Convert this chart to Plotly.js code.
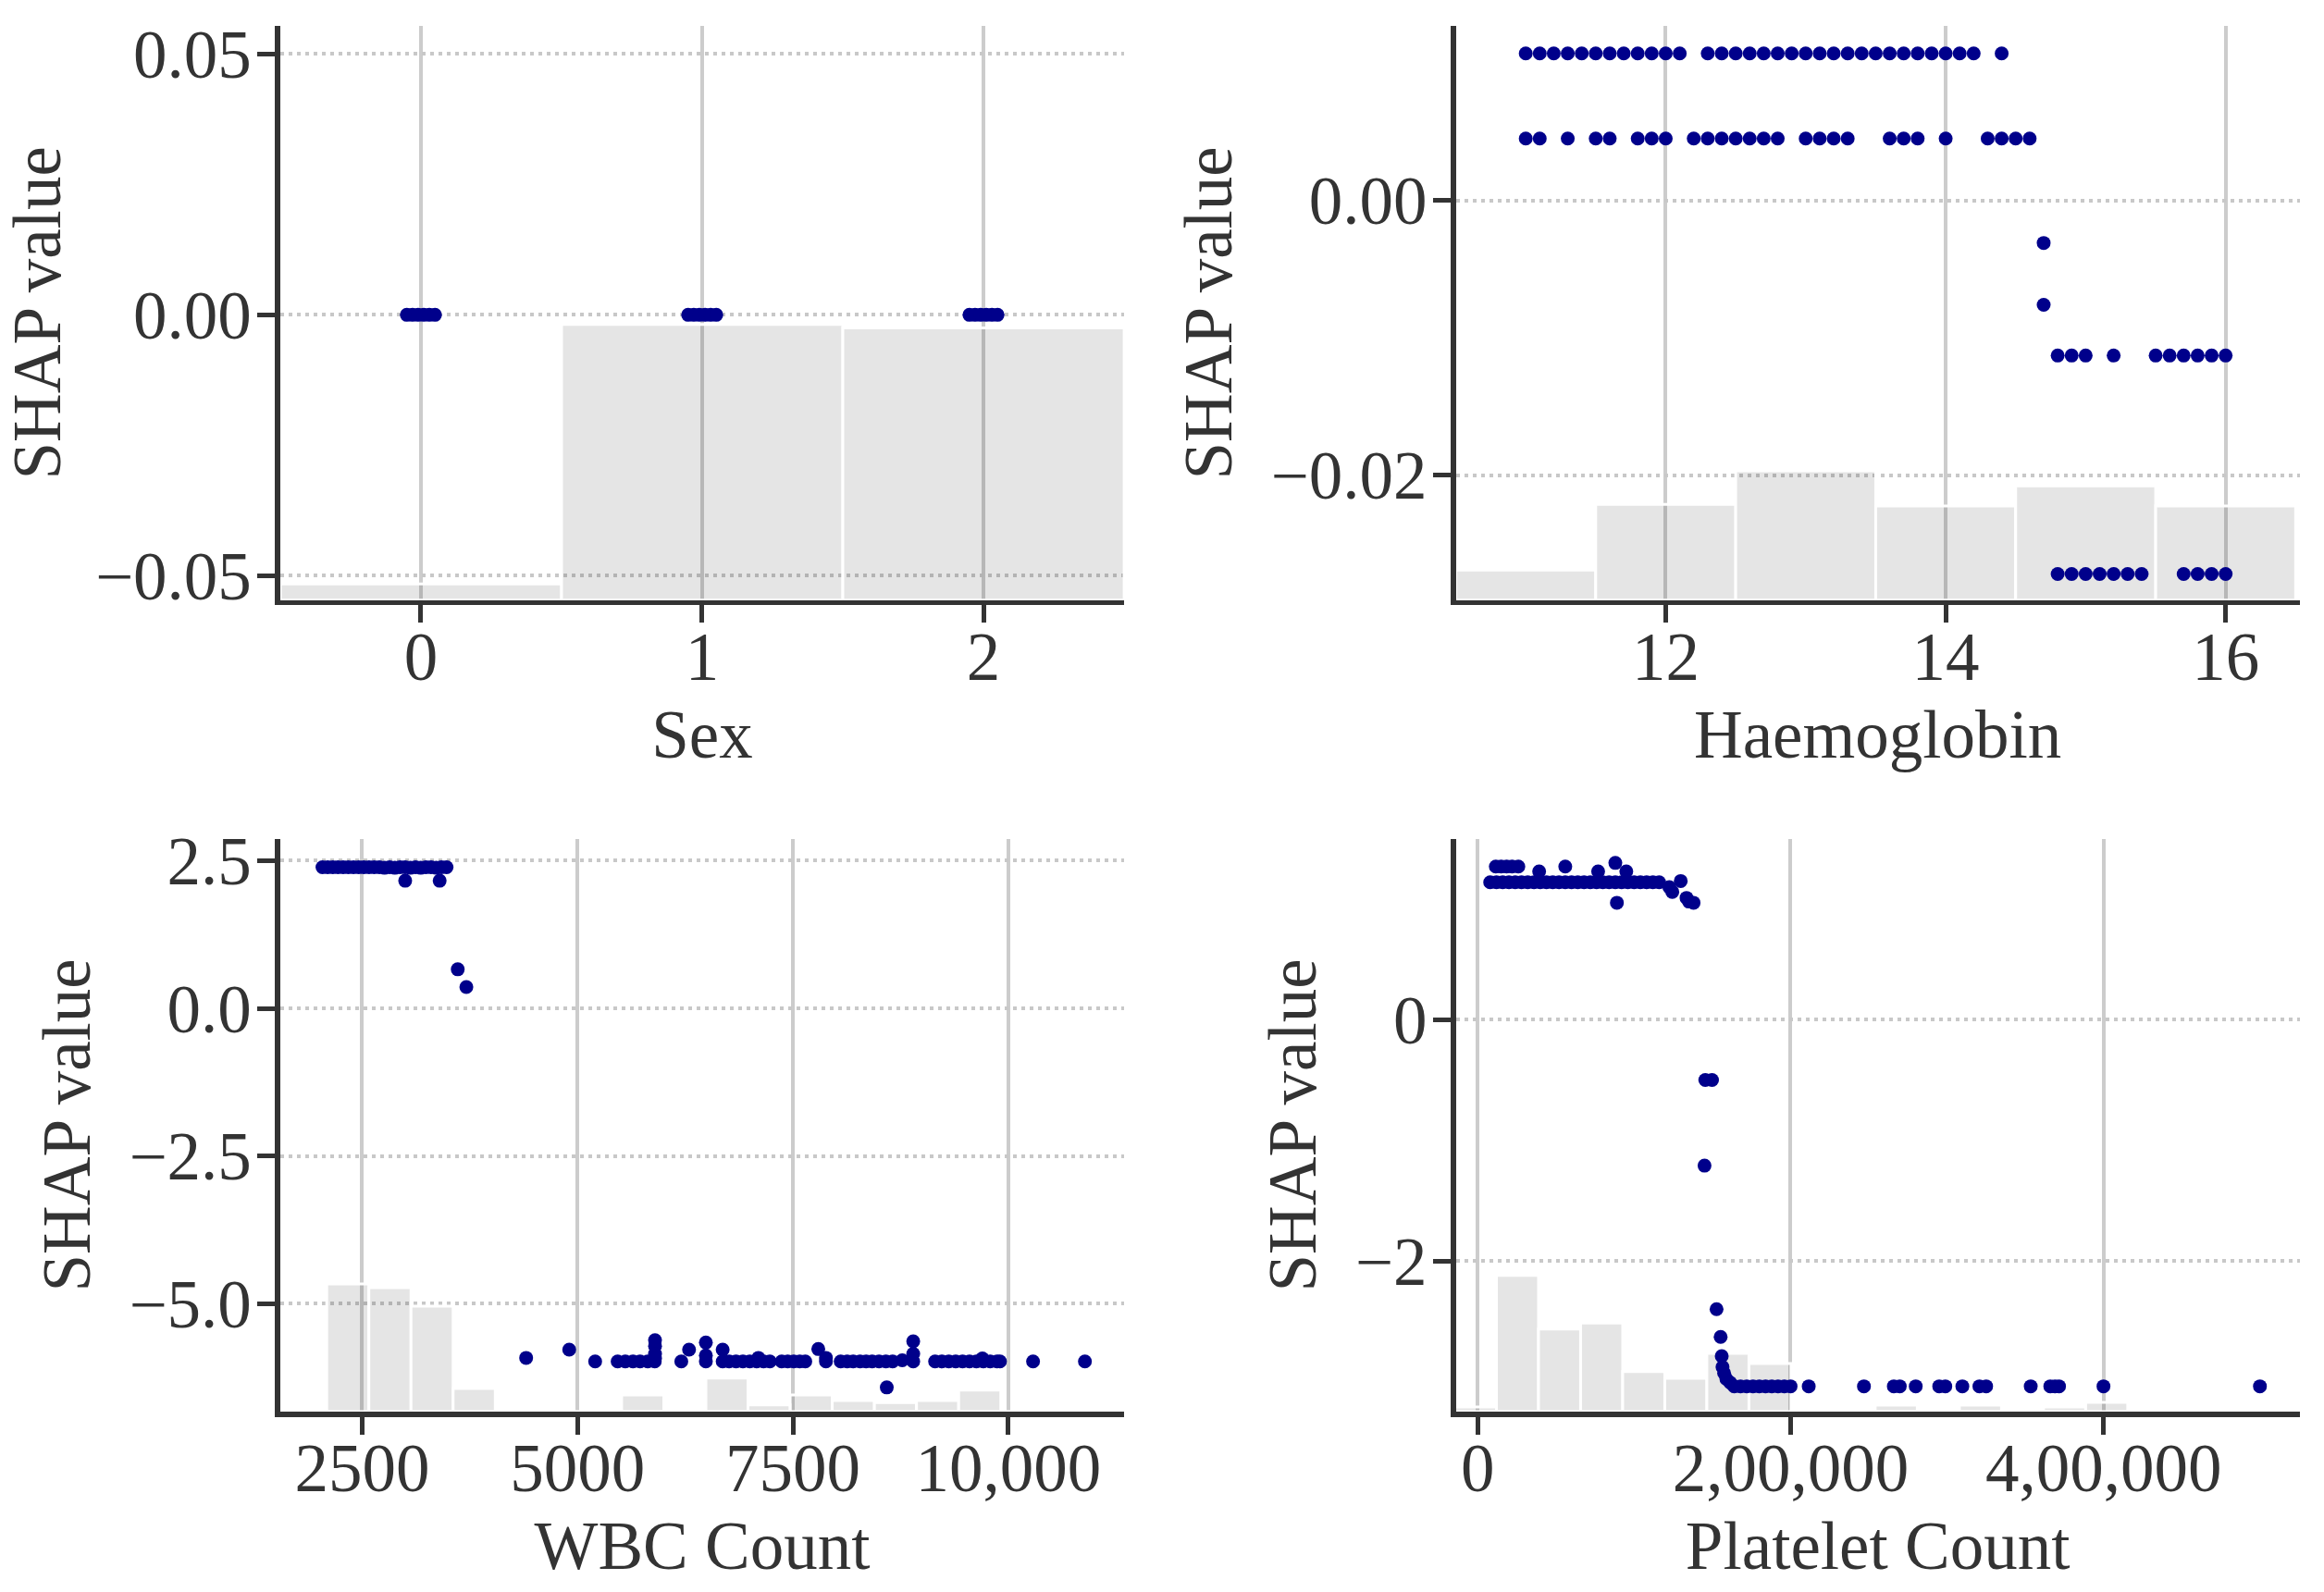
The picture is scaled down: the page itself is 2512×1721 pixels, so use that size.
<!DOCTYPE html>
<html><head><meta charset="utf-8">
<script src="https://cdn.plot.ly/plotly-3.0.1.min.js"></script>
<style>html,body{margin:0;padding:0;background:#fff}#chart{width:2512px;height:1721px}</style>
</head><body><div id="chart"></div>
<script>
// ---------- Sex ----------
const sexX = [-0.05,-0.03,-0.01,0.01,0.03,0.05, 0.95,0.97,0.99,1.01,1.03,1.05, 1.95,1.97,1.99,2.01,2.03,2.05];
const sexY = [0,0,0,0,0,0, 0,0,0,0,0,0, 0,0,0,0,0,0];
const sexBins = [0, 1, 2];
const sexHistShare = [0.028, 0.480, 0.474];

// ---------- Haemoglobin ----------
const hbX = [
  11.0,11.1,11.2,11.3,11.4,11.5,11.6,11.7,11.8,11.9,12.0,12.1,
  12.3,12.4,12.5,12.6,12.7,12.8,12.9,13.0,13.1,13.2,13.3,13.4,13.5,13.6,13.7,13.8,13.9,14.0,14.1,14.2,
  14.4,
  11.0,11.1,11.3,11.5,11.6,11.8,11.9,12.0,12.2,12.3,12.4,12.5,12.6,12.7,12.8,13.0,13.1,13.2,13.3,13.6,13.7,13.8,14.0,14.3,14.4,14.5,14.6,
  14.7,14.7,
  14.8,14.9,15.0,15.2,15.5,15.6,15.7,15.8,15.9,16.0,
  14.8,14.9,15.0,15.1,15.2,15.3,15.4,15.7,15.8,15.9,16.0
];
const hbY = [
  0.0107,0.0107,0.0107,0.0107,0.0107,0.0107,0.0107,0.0107,0.0107,0.0107,0.0107,0.0107,
  0.0107,0.0107,0.0107,0.0107,0.0107,0.0107,0.0107,0.0107,0.0107,0.0107,0.0107,0.0107,0.0107,0.0107,0.0107,0.0107,0.0107,0.0107,0.0107,0.0107,
  0.0107,
  0.0045,0.0045,0.0045,0.0045,0.0045,0.0045,0.0045,0.0045,0.0045,0.0045,0.0045,0.0045,0.0045,0.0045,0.0045,0.0045,0.0045,0.0045,0.0045,0.0045,0.0045,0.0045,0.0045,0.0045,0.0045,0.0045,0.0045,
  -0.0031,-0.0076,
  -0.0113,-0.0113,-0.0113,-0.0113,-0.0113,-0.0113,-0.0113,-0.0113,-0.0113,-0.0113,
  -0.0272,-0.0272,-0.0272,-0.0272,-0.0272,-0.0272,-0.0272,-0.0272,-0.0272,-0.0272,-0.0272
];
const hbBins = [11, 12, 13, 14, 15, 16];
const hbHistShare = [0.052, 0.1665, 0.225, 0.1637, 0.199, 0.1637];

// ---------- WBC Count ----------
const wbcX = [
  2040,2100,2160,2220,2280,2340,2400,2460,2520,2580,2640,2700,2760,2820,2880,2940,3000,3060,3120,3180,3240,3300,3360,3420,3480,
  3000,3400,
  3610,3710,
  4404,4904,5205,
  5466,5555,5644,5726,5815,5897,5900,5900,5900,5900,
  6205,6295,6490,6490,6490,
  6685,6685,6760,6840,6920,7000,7080,7100,7160,7233,
  7370,7440,7510,7580,7644,
  7795,7884,7884,
  8055,8130,8200,8280,8350,8420,8500,8580,8658,8590,
  8770,8897,8897,8897,
  9151,9230,9310,9390,9470,9550,9630,9700,9710,9790,9870,9904,
  10288,10890
];
const wbcY = [
  2.39,2.39,2.39,2.39,2.39,2.39,2.39,2.39,2.39,2.39,2.39,2.39,2.38,2.39,2.38,2.39,2.39,2.38,2.39,2.38,2.39,2.39,2.38,2.39,2.39,
  2.16,2.16,
  0.66,0.36,
  -5.92,-5.78,-5.98,
  -5.98,-5.98,-5.98,-5.98,-5.98,-5.98,-5.62,-5.72,-5.85,-5.93,
  -5.98,-5.78,-5.66,-5.88,-5.98,
  -5.78,-5.98,-5.98,-5.98,-5.98,-5.98,-5.98,-5.92,-5.98,-5.98,
  -5.98,-5.98,-5.98,-5.98,-5.98,
  -5.77,-5.98,-5.92,
  -5.98,-5.98,-5.98,-5.98,-5.98,-5.98,-5.98,-5.98,-5.98,-6.42,
  -5.96,-5.64,-5.85,-5.98,
  -5.98,-5.98,-5.98,-5.98,-5.98,-5.98,-5.98,-5.93,-5.98,-5.98,-5.98,-5.98,
  -5.98,-5.98
];
const wbcBins = [1845,2334,2823,3312,3801,4290,4779,5268,5757,6246,6735,7224,7713,8202,8691,9180,9669,10158,10647];
const wbcHistShare = [0.005,0.223,0.2166,0.184,0.0404,0,0,0,0.0289,0,0.0585,0.0116,0.0289,0.0195,0.0159,0.0195,0.0375,0,0];

// ---------- Platelet Count ----------
const pltX = [
  8000,12000,16000,20000,24000,28000,32000,36000,40000,44000,48000,52000,56000,60000,64000,68000,72000,76000,80000,84000,88000,92000,96000,100000,
  11600,15000,18500,22000,26000,39300,56000,77000,88000,95000,
  89000,
  104000,108000,112000,116000,122500,124400,129800,133500,135000,138000,
  145500,149800,145000,
  152700,155300,156000,156500,157500,159000,161500,
  164000,168000,172000,176000,180000,184000,188000,192000,196000,200000,
  211600,246900,266000,269800,280000,295000,298900,309800,320700,325000,353500,366000,369000,371600,400000,500000
];
const pltY = [
  1.14,1.14,1.14,1.14,1.14,1.14,1.14,1.14,1.14,1.14,1.14,1.14,1.14,1.14,1.14,1.14,1.14,1.14,1.14,1.14,1.14,1.14,1.14,1.14,
  1.27,1.27,1.27,1.27,1.27,1.23,1.27,1.23,1.30,1.23,
  0.97,
  1.14,1.14,1.14,1.14,1.10,1.06,1.15,1.01,0.98,0.97,
  -0.50,-0.50,-1.21,
  -2.40,-2.63,-2.79,-2.88,-2.93,-2.98,-3.01,
  -3.04,-3.04,-3.04,-3.04,-3.04,-3.04,-3.04,-3.04,-3.04,-3.04,
  -3.04,-3.04,-3.04,-3.04,-3.04,-3.04,-3.04,-3.04,-3.04,-3.04,-3.04,-3.04,-3.04,-3.04,-3.04,-3.04
];
const pltBins = [-1455,25445,52345,79245,106145,133045,159945,186845,213745,240645,267545,294445,321345,348245,375145,402045];
const pltHistShare = [0.008,0.238,0.1441,0.1548,0.0697,0.0583,0.1019,0.0838,0,0,0.0114,0,0.0114,0,0.008,0.016];

// ---------- tick labels ----------
const wbcTickVals = [2500, 5000, 7500, 10000];
const wbcTickText = ["2500", "5000", "7500", "10,000"];
const pltTickVals = [0, 200000, 400000];
const pltTickText = ["0", "2,00,000", "4,00,000"];

const FONT = {family: "Liberation Serif, Times New Roman, serif", size: 73, color: "#333333"};
const DOT = "#00008b";
const HISTC = "rgba(0,0,0,0.1)";

function xAxis(domain, anchor, title, standoff, extra) {
  return Object.assign({
    domain: domain, anchor: anchor,
    showline: true, linecolor: "#333333", linewidth: 5.5,
    ticks: "outside", ticklen: 19, tickwidth: 5, tickcolor: "#333333",
    ticklabelstandoff: -26,
    showgrid: true, gridcolor: "#cccccc", gridwidth: 4,
    zeroline: false, tickfont: FONT,
    title: {text: title, font: FONT, standoff: standoff}
  }, extra || {});
}
function baseY(domain, anchor) {
  return {domain: domain, anchor: anchor, range: [0, 1], visible: false, fixedrange: true, showgrid: false, zeroline: false};
}
function shapY(overlay, anchor, range, extra) {
  return Object.assign({
    overlaying: overlay, anchor: anchor, side: "left", range: range,
    showline: true, linecolor: "#333333", linewidth: 5.5,
    ticks: "outside", ticklen: 19, tickwidth: 5, tickcolor: "#333333",
    ticklabelstandoff: -8,
    showgrid: true, gridcolor: "#c8c8c8", gridwidth: 4, griddash: "4px,5px",
    zeroline: false, tickfont: FONT,
    title: {text: "SHAP value", font: FONT, standoff: 20}
  }, extra || {});
}

const xL = [0.1206, 0.4837];
const xR = [0.6264, 0.9896];
const yT = [0.6231, 0.9837];
const yB = [0.1133, 0.4731];

const traces = [
  {type: "bar", x: sexBins, y: sexHistShare, width: 1, xaxis: "x", yaxis: "y",
   marker: {color: HISTC, line: {color: "#ffffff", width: 3}}, hoverinfo: "skip", showlegend: false},
  {type: "scatter", mode: "markers", x: sexX, y: sexY, xaxis: "x", yaxis: "y2",
   marker: {color: DOT, size: 15}, showlegend: false, name: "Sex"},

  {type: "bar", x: hbBins, y: hbHistShare, width: 1, xaxis: "x2", yaxis: "y3",
   marker: {color: HISTC, line: {color: "#ffffff", width: 3}}, hoverinfo: "skip", showlegend: false},
  {type: "scatter", mode: "markers", x: hbX, y: hbY, xaxis: "x2", yaxis: "y4",
   marker: {color: DOT, size: 15}, showlegend: false, name: "Haemoglobin"},

  {type: "bar", x: wbcBins, y: wbcHistShare, width: 489, xaxis: "x3", yaxis: "y5",
   marker: {color: HISTC, line: {color: "#ffffff", width: 3}}, hoverinfo: "skip", showlegend: false},
  {type: "scatter", mode: "markers", x: wbcX, y: wbcY, xaxis: "x3", yaxis: "y6",
   marker: {color: DOT, size: 15}, showlegend: false, name: "WBC Count"},

  {type: "bar", x: pltBins, y: pltHistShare, width: 26900, xaxis: "x4", yaxis: "y7",
   marker: {color: HISTC, line: {color: "#ffffff", width: 3}}, hoverinfo: "skip", showlegend: false},
  {type: "scatter", mode: "markers", x: pltX, y: pltY, xaxis: "x4", yaxis: "y8",
   marker: {color: DOT, size: 15}, showlegend: false, name: "Platelet Count"}
];

const layout = {
  width: 2512, height: 1721,
  margin: {l: 0, r: 0, t: 0, b: 0},
  paper_bgcolor: "#ffffff", plot_bgcolor: "rgba(0,0,0,0)",
  font: FONT, showlegend: false, bargap: 0,
  xaxis: xAxis(xL, "y", "Sex", 20, {range: [-0.5, 2.5], tickvals: [0, 1, 2]}),
  yaxis: baseY(yT, "x"),
  yaxis2: shapY("y", "x", [-0.0547, 0.0554], {dtick: 0.05, tickformat: ".2f"}),

  xaxis2: xAxis(xR, "y3", "Haemoglobin", 20, {range: [10.5, 16.53], dtick: 2}),
  yaxis3: baseY(yT, "x2"),
  yaxis4: shapY("y3", "x2", [-0.0291, 0.0127], {dtick: 0.02, tickformat: ".2f"}),

  xaxis3: xAxis(xL, "y5", "WBC Count", 20, {range: [1550, 11345], tickvals: wbcTickVals, ticktext: wbcTickText}),
  yaxis5: baseY(yB, "x3"),
  yaxis6: shapY("y5", "x3", [-6.83, 2.87], {dtick: 2.5, tickformat: ".1f"}),

  xaxis4: xAxis(xR, "y7", "Platelet Count", 20, {range: [-14000, 525500], tickvals: pltTickVals, ticktext: pltTickText}),
  yaxis7: baseY(yB, "x4"),
  yaxis8: shapY("y7", "x4", [-3.25, 1.50], {dtick: 2})
};

Plotly.newPlot("chart", traces, layout, {displayModeBar: false, staticPlot: true});
</script></body></html>
